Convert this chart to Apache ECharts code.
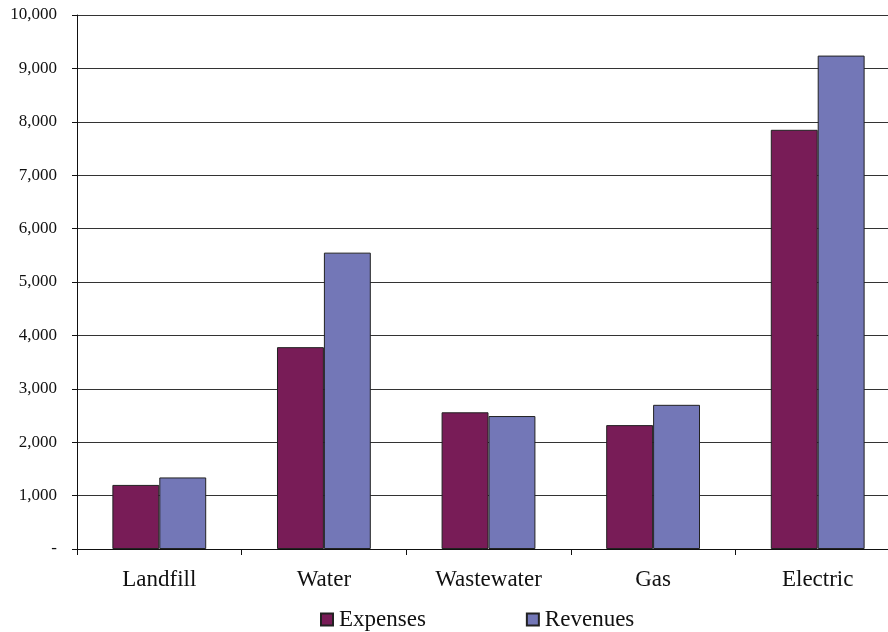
<!DOCTYPE html>
<html>
<head>
<meta charset="utf-8">
<script src="https://cdn.jsdelivr.net/npm/echarts@6/dist/echarts.min.js"></script>
<style>
  html, body { margin: 0; padding: 0; background: #fff; }
  #chart { width: 888px; height: 632px; }
</style>
</head>
<body>
<div id="chart"></div>
<script>
// categories and values
var categories = ['Landfill', 'Water', 'Wastewater', 'Gas', 'Electric'];
var expenses = [1200, 3780, 2560, 2320, 7850];
var revenues = [1340, 5550, 2490, 2700, 9240];

var chart = echarts.init(document.getElementById('chart'), null, { renderer: 'canvas' });

var font = '"Liberation Serif", "DejaVu Serif", serif';

var option = {
  backgroundColor: '#fff',
  animation: false,
  // plot runs past the right edge of the picture (last category is cut off)
  grid: { left: 77, top: 15, width: 823, height: 534, containLabel: false, outerBoundsMode: 'none' },
  legend: {
    left: 315,
    top: 603,
    itemWidth: 12,
    itemHeight: 12,
    itemGap: 100,
    icon: 'rect',
    textStyle: { fontFamily: font, fontSize: 23, color: '#111', padding: [0, 0, 0, 1] },
    data: ['Expenses', 'Revenues']
  },
  xAxis: {
    type: 'category',
    data: categories,
    axisLine: { lineStyle: { color: '#111', width: 1 } },
    axisTick: { show: true, length: 6, lineStyle: { color: '#111' } },
    axisLabel: { fontFamily: font, fontSize: 23, color: '#111', margin: 19 }
  },
  yAxis: {
    type: 'value',
    min: 0,
    max: 10000,
    interval: 1000,
    axisLine: { show: true, lineStyle: { color: '#111', width: 1 } },
    axisTick: { show: true, length: 5, lineStyle: { color: '#111' } },
    splitLine: { lineStyle: { color: '#333', width: 1 } },
    axisLabel: {
      fontFamily: font, fontSize: 17, color: '#111', margin: 20,
      formatter: function (v) { return v === 0 ? '-' : v.toLocaleString('en-US'); }
    }
  },
  series: [
    {
      name: 'Expenses',
      type: 'bar',
      data: expenses,
      barGap: '0%',
      barCategoryGap: '43%',
      itemStyle: { color: '#781C57', borderColor: '#222', borderWidth: 1 }
    },
    {
      name: 'Revenues',
      type: 'bar',
      data: revenues,
      itemStyle: { color: '#7377B7', borderColor: '#222', borderWidth: 1 }
    }
  ]
};

chart.setOption(option);
</script>
</body>
</html>
